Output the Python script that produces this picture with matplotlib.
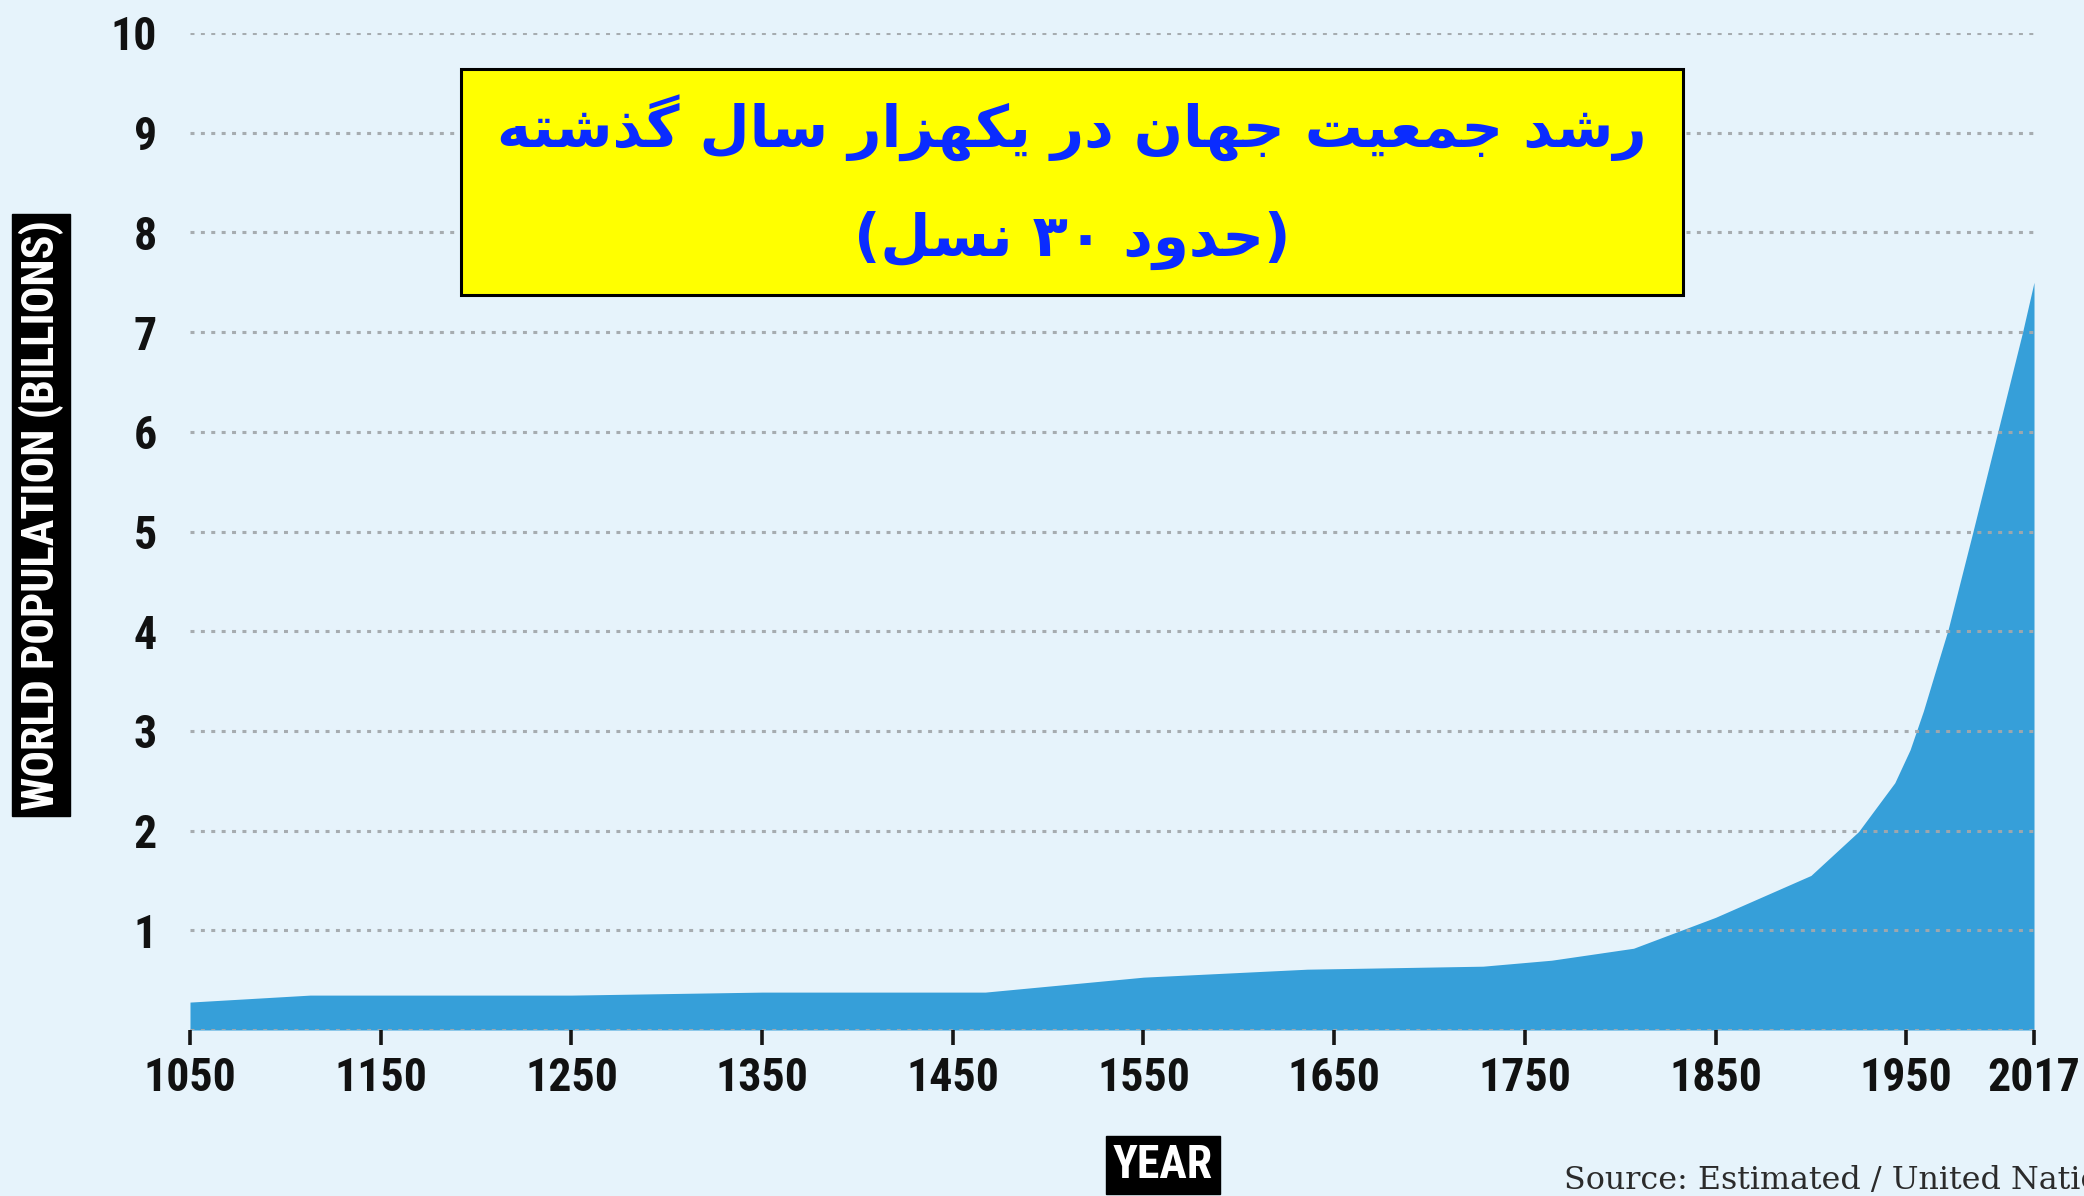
import re
import matplotlib
matplotlib.use("Agg")
import matplotlib.pyplot as plt
from matplotlib import font_manager as fm
from matplotlib.patches import Rectangle

# ---------------- data ----------------
years = [1050, 1113, 1250, 1350, 1467, 1550, 1636, 1728, 1764, 1807, 1850,
         1900, 1925, 1944, 1952, 1959, 1965, 1972, 1985, 1998, 2011, 2017]
population = [0.28, 0.35, 0.35, 0.38, 0.38, 0.53, 0.61, 0.64, 0.70, 0.82, 1.13,
              1.55, 1.99, 2.48, 2.81, 3.2, 3.58, 4.02, 5.0, 6.0, 7.0, 7.5]
x_ticks = [1050, 1150, 1250, 1350, 1450, 1550, 1650, 1750, 1850, 1950, 2017]
y_ticks = [0, 1, 2, 3, 4, 5, 6, 7, 8, 9, 10]
y_tick_labels = ['', '1', '2', '3', '4', '5', '6', '7', '8', '9', '10']
title_line1 = "رشد جمعیت جهان در یکهزار سال گذشته"
title_line2 = "(حدود ۳۰ نسل)"
y_label = "WORLD POPULATION (BILLIONS)"
x_label = "YEAR"
source_text = "Source: Estimated / United Nations"

# ---------------- Persian shaping (presentation forms) ----------------
FORMS = {  # isolated, final, initial, medial
    '\u0627': ('\uFE8D', '\uFE8E', None, None),
    '\u062A': ('\uFE95', '\uFE96', '\uFE97', '\uFE98'),
    '\u062C': ('\uFE9D', '\uFE9E', '\uFE9F', '\uFEA0'),
    '\u062D': ('\uFEA1', '\uFEA2', '\uFEA3', '\uFEA4'),
    '\u062F': ('\uFEA9', '\uFEAA', None, None),
    '\u0630': ('\uFEAB', '\uFEAC', None, None),
    '\u0631': ('\uFEAD', '\uFEAE', None, None),
    '\u0632': ('\uFEAF', '\uFEB0', None, None),
    '\u0633': ('\uFEB1', '\uFEB2', '\uFEB3', '\uFEB4'),
    '\u0634': ('\uFEB5', '\uFEB6', '\uFEB7', '\uFEB8'),
    '\u0639': ('\uFEC9', '\uFECA', '\uFECB', '\uFECC'),
    '\u0644': ('\uFEDD', '\uFEDE', '\uFEDF', '\uFEE0'),
    '\u0645': ('\uFEE1', '\uFEE2', '\uFEE3', '\uFEE4'),
    '\u0646': ('\uFEE5', '\uFEE6', '\uFEE7', '\uFEE8'),
    '\u0647': ('\uFEE9', '\uFEEA', '\uFEEB', '\uFEEC'),
    '\u0648': ('\uFEED', '\uFEEE', None, None),
    '\u06A9': ('\uFB8E', '\uFB8F', '\uFB90', '\uFB91'),
    '\u06AF': ('\uFB92', '\uFB93', '\uFB94', '\uFB95'),
    '\u06CC': ('\uFBFC', '\uFBFD', '\uFBFE', '\uFBFF'),
}


def _dual(c):
    return c in FORMS and FORMS[c][2] is not None


def shape(s):
    s = s.replace('\u064A', '\u06CC').replace('\u0643', '\u06A9')
    out = []
    for i, c in enumerate(s):
        if c not in FORMS:
            out.append(c)
            continue
        prev = s[i - 1] if i > 0 else ''
        nxt = s[i + 1] if i + 1 < len(s) else ''
        cp = _dual(prev)
        cn = _dual(c) and nxt in FORMS
        iso, fin, ini, med = FORMS[c]
        if cp and cn:
            out.append(med)
        elif cp:
            out.append(fin)
        elif cn:
            out.append(ini)
        else:
            out.append(iso)
    return ''.join(out)


def visual(s):
    rev = shape(s)[::-1]
    rev = re.sub(r'[0-9\u06F0-\u06F9\u0660-\u0669]+', lambda m: m.group(0)[::-1], rev)
    return rev.translate(str.maketrans('()', ')('))


# ---------------- font choice ----------------
names = {f.name for f in fm.fontManager.ttflist}
COND_STRETCH = 'normal'
if 'Roboto Condensed' in names:
    COND = ['Roboto Condensed', 'DejaVu Sans']
elif 'Liberation Sans Narrow' in names:
    COND = ['Liberation Sans Narrow', 'DejaVu Sans']
elif any(f.name == 'DejaVu Sans' and 'ondensed' in str(f.stretch) for f in fm.fontManager.ttflist):
    COND = ['DejaVu Sans']
    COND_STRETCH = 'condensed'
else:
    COND = ['DejaVu Sans']

# ---------------- styling ----------------
BG = '#E6F3FB'
FILL = '#369FD9'

W, H = 2084, 1196
fig = plt.figure(figsize=(W / 100, H / 100), dpi=100, facecolor=BG)
renderer = fig.canvas.get_renderer()


def fit(txt, target, axis='w'):
    """Scale font size of a text so its extent matches target pixels."""
    for _ in range(3):
        bb = txt.get_window_extent(renderer=renderer)
        cur = bb.width if axis == 'w' else bb.height
        if cur > 0:
            txt.set_fontsize(txt.get_fontsize() * target / cur)


ax = fig.add_axes([190 / W, 1 - 1030 / H, (2034 - 190) / W, (1030 - 33) / H])
ax.set_facecolor(BG)

ax.fill_between(years, population, 0, color=FILL, lw=0, zorder=1)
ax.set_xlim(1050, 2017)
ax.set_ylim(0, 10)

ax.set_xticks(x_ticks)
ax.set_xticklabels([str(t) for t in x_ticks])
ax.set_yticks(y_ticks)
ax.set_yticklabels(y_tick_labels)

for sp in ax.spines.values():
    sp.set_visible(False)

ax.set_axisbelow(False)
ax.yaxis.grid(True, linestyle=(0, (1.3, 2.1)), color='#a3a8ac',
              linewidth=2.2, alpha=0.95)
ax.xaxis.grid(False)
ax.tick_params(axis='x', length=11, width=2.6, color='#151515', pad=8)
ax.tick_params(axis='y', length=0, pad=24)

# measure a tick label size
probe = fig.text(0, 0, '1050', fontfamily=COND, fontstretch=COND_STRETCH,
                 fontweight='bold', fontsize=30)
fit(probe, 93)
tick_fs = probe.get_fontsize()
probe.remove()

for lab in ax.get_xticklabels() + ax.get_yticklabels():
    lab.set_fontfamily(COND)
    lab.set_fontstretch(COND_STRETCH)
    lab.set_fontweight('bold')
    lab.set_fontsize(tick_fs)
    lab.set_color('#111111')

# y label in black box
yl = fig.text(41 / W, 1 - 515 / H, y_label, rotation=90, ha='center', va='center',
              color='white', fontsize=30, fontweight='bold', family=COND,
              fontstretch=COND_STRETCH)
fit(yl, 590, axis='h')
yl.set_bbox(dict(boxstyle='square,pad=0.14', fc='black', ec='black'))

# x label in black box
xl = fig.text(1163 / W, 1 - 1165 / H, x_label, ha='center', va='center',
              color='white', fontsize=30, fontweight='bold', family=COND,
              fontstretch=COND_STRETCH)
fit(xl, 100)
xl.set_bbox(dict(boxstyle='square,pad=0.15', fc='black', ec='black'))

# source (fit the visible part to the space up to the right edge)
sp_probe = fig.text(0, 0, source_text[:-3], fontsize=24, family=['DejaVu Serif'])
fit(sp_probe, 518)
src_fs = sp_probe.get_fontsize()
sp_probe.remove()
fig.text(1564 / W, 1 - 1189 / H, source_text, ha='left', va='baseline',
         color='#2b2b2b', fontsize=src_fs, family=['DejaVu Serif'])

# title box
rect = Rectangle((461 / W, 1 - 295 / H), (1683 - 461) / W, (295 - 69) / H,
                 transform=fig.transFigure, fc='#FFFF00', ec='black', lw=2.2, zorder=5)
fig.add_artist(rect)
t1 = fig.text(1072 / W, 1 - 128 / H, visual(title_line1), ha='center', va='center',
              color='#0A2CFF', fontsize=44, fontweight='bold', family=['DejaVu Sans'],
              zorder=6)
fit(t1, 1150)
t2 = fig.text(1072 / W, 1 - 240 / H, visual(title_line2), ha='center', va='center',
              color='#0A2CFF', fontsize=t1.get_fontsize(), fontweight='bold',
              family=['DejaVu Sans'], zorder=6)

fig.savefig('out.png', dpi=100, facecolor=BG)
